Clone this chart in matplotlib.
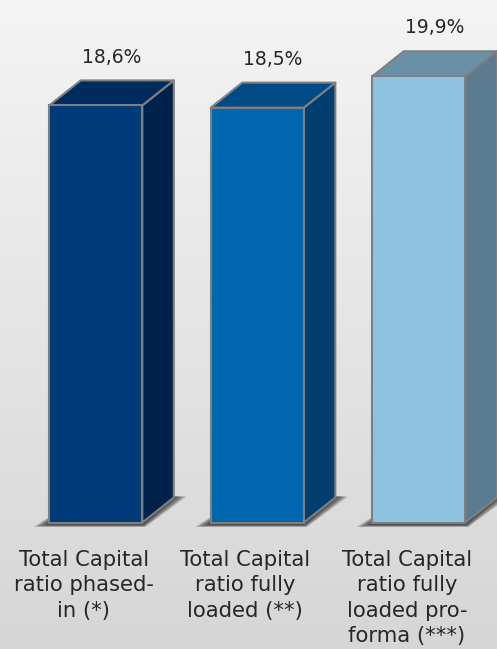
import numpy as np
import matplotlib
matplotlib.use("Agg")
import matplotlib.pyplot as plt
from matplotlib.patches import Polygon

# -------------------- DATA --------------------
categories = [
    "Total Capital\nratio phased-\nin (*)",
    "Total Capital\nratio fully\nloaded (**)",
    "Total Capital\nratio fully\nloaded pro-\nforma (***)",
]
values = [18.6, 18.5, 19.9]
value_labels = ["18,6%", "18,5%", "19,9%"]

front_colors = ["#003a78", "#0066b0", "#8dc2e0"]
top_colors = ["#002b5d", "#004b85", "#6a90a8"]
side_colors = ["#00224b", "#003f6f", "#5b7c90"]
edge = "#7f7f7f"
text_color = "#262626"

W, H = 497, 649
fig = plt.figure(figsize=(W / 100, H / 100), dpi=100)
ax = fig.add_axes([0, 0, 1, 1])

xlim = (-0.593, 2.484)
ylim = (-5.64, 23.30)
ax.set_xlim(*xlim)
ax.set_ylim(*ylim)
ax.axis("off")

# pixel -> data units
px = (xlim[1] - xlim[0]) / W
py = (ylim[1] - ylim[0]) / H

# background gradient
grad = np.linspace(0, 1, 256).reshape(-1, 1)
ax.imshow(grad, extent=[xlim[0], xlim[1], ylim[0], ylim[1]], aspect="auto",
          cmap=matplotlib.colors.LinearSegmentedColormap.from_list(
              "bg", ["#d6d6d6", "#f4f4f4"]),
          origin="lower", zorder=0)

width = 0.576
dx = 31.5 * px
dy = 25 * py
x = np.arange(len(values))

# soft shadows under bars
for xi in x:
    x0, x1 = xi - width / 2, xi + width / 2
    for k in range(8):
        s = 1 - k / 8
        pts = [(x0 - 16 * s * px, -(2 + 2.5 * s) * py),
               (x1 + 3 * s * px, -(2 + 2.5 * s) * py),
               (x1 + dx + 13 * s * px, dy + 1 * py),
               (x0 + dx, dy + 1 * py)]
        ax.add_patch(Polygon(pts, closed=True, facecolor="#202020",
                             edgecolor="none", alpha=0.16, zorder=1))

bars = ax.bar(x, values, width=width, color=front_colors, edgecolor=edge,
              linewidth=1.5, zorder=3)

for xi, v, tc, sc in zip(x, values, top_colors, side_colors):
    x0, x1 = xi - width / 2, xi + width / 2
    side = [(x1, 0), (x1 + dx, dy), (x1 + dx, v + dy), (x1, v)]
    top = [(x0, v), (x1, v), (x1 + dx, v + dy), (x0 + dx, v + dy)]
    ax.add_patch(Polygon(side, closed=True, facecolor=sc, edgecolor=edge,
                         linewidth=1.5, joinstyle="round", zorder=2))
    ax.add_patch(Polygon(top, closed=True, facecolor=tc, edgecolor=edge,
                         linewidth=1.5, joinstyle="round", zorder=2))

for xi, v, lab in zip(x, values, value_labels):
    ax.annotate(lab, (xi + dx / 2, v + dy), xytext=(0, 10),
                textcoords="offset points", ha="center", va="bottom",
                fontsize=13.5, color=text_color, zorder=5)

for xi, lab in zip(x, categories):
    ax.annotate(lab, (xi - 12 * px, 0), xytext=(0, -20),
                textcoords="offset points", ha="center", va="top",
                fontsize=15.2, color=text_color, linespacing=1.32, zorder=5)

fig.savefig("out.png", dpi=100)
